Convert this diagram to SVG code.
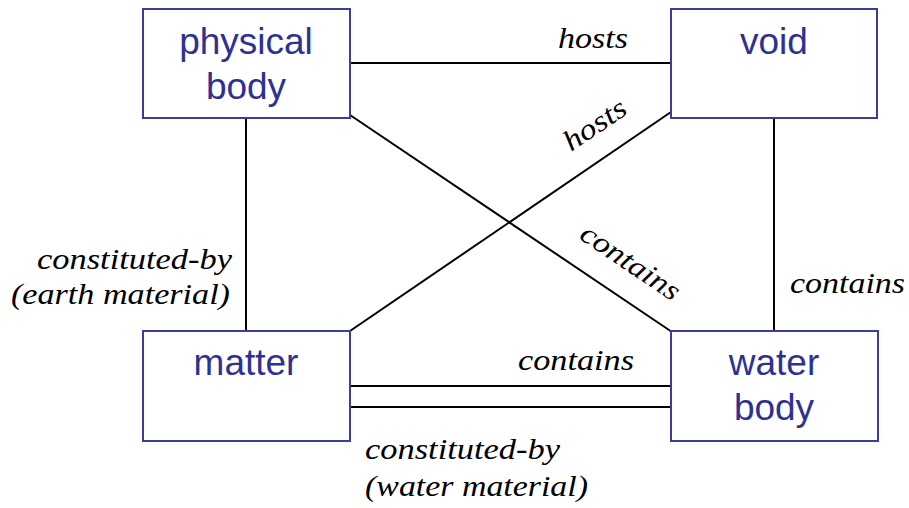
<svg xmlns="http://www.w3.org/2000/svg" width="909" height="508" viewBox="0 0 909 508">
<style>
.box{fill:#fff;stroke:#3a3d9a;stroke-width:2}
.nt{font-family:"Liberation Sans",Arial,sans-serif;font-size:37px;fill:#2e3192;text-anchor:middle}
.lb{font-family:"Liberation Serif","Times New Roman",serif;font-style:italic;font-size:29px;fill:#000}
.ln{stroke:#000;stroke-width:2;fill:none}
</style>
<rect width="909" height="508" fill="#fff"/>
<g id="connectors">
<line class="ln" x1="350" y1="63" x2="671" y2="63"/>
<line class="ln" x1="350" y1="115" x2="672" y2="332"/>
<line class="ln" x1="350" y1="331" x2="671" y2="112"/>
<line class="ln" x1="246" y1="118" x2="246" y2="330"/>
<line class="ln" x1="774" y1="118" x2="774" y2="331"/>
<line class="ln" x1="350" y1="386" x2="671" y2="386"/>
<line class="ln" x1="350" y1="407" x2="671" y2="407"/>
<text class="lb" x="558" y="48" textLength="70" lengthAdjust="spacingAndGlyphs">hosts</text>
<text class="lb" transform="translate(571,152) rotate(-34)" textLength="70" lengthAdjust="spacingAndGlyphs">hosts</text>
<text class="lb" transform="translate(578,238) rotate(34)" textLength="114" lengthAdjust="spacingAndGlyphs">contains</text>
<text class="lb" x="37" y="269" textLength="195" lengthAdjust="spacingAndGlyphs">constituted-by</text>
<text class="lb" x="11" y="304" textLength="219" lengthAdjust="spacingAndGlyphs">(earth material)</text>
<text class="lb" x="790" y="293" textLength="115" lengthAdjust="spacingAndGlyphs">contains</text>
<text class="lb" x="518" y="370" textLength="116" lengthAdjust="spacingAndGlyphs">contains</text>
<text class="lb" x="365" y="459" textLength="195" lengthAdjust="spacingAndGlyphs">constituted-by</text>
<text class="lb" x="365" y="496" textLength="223" lengthAdjust="spacingAndGlyphs">(water material)</text>
</g>
<g id="physical-body">
<rect class="box" x="143" y="9" width="207" height="109"/>
<text class="nt" x="246" y="54">physical</text>
<text class="nt" x="246" y="99">body</text>
</g>
<g id="void">
<rect class="box" x="671" y="9" width="206" height="109"/>
<text class="nt" x="774" y="54">void</text>
</g>
<g id="matter">
<rect class="box" x="143" y="331" width="207" height="110"/>
<text class="nt" x="246" y="375">matter</text>
</g>
<g id="water-body">
<rect class="box" x="671" y="331" width="207" height="110"/>
<text class="nt" x="774" y="375">water</text>
<text class="nt" x="774" y="420">body</text>
</g>
</svg>
